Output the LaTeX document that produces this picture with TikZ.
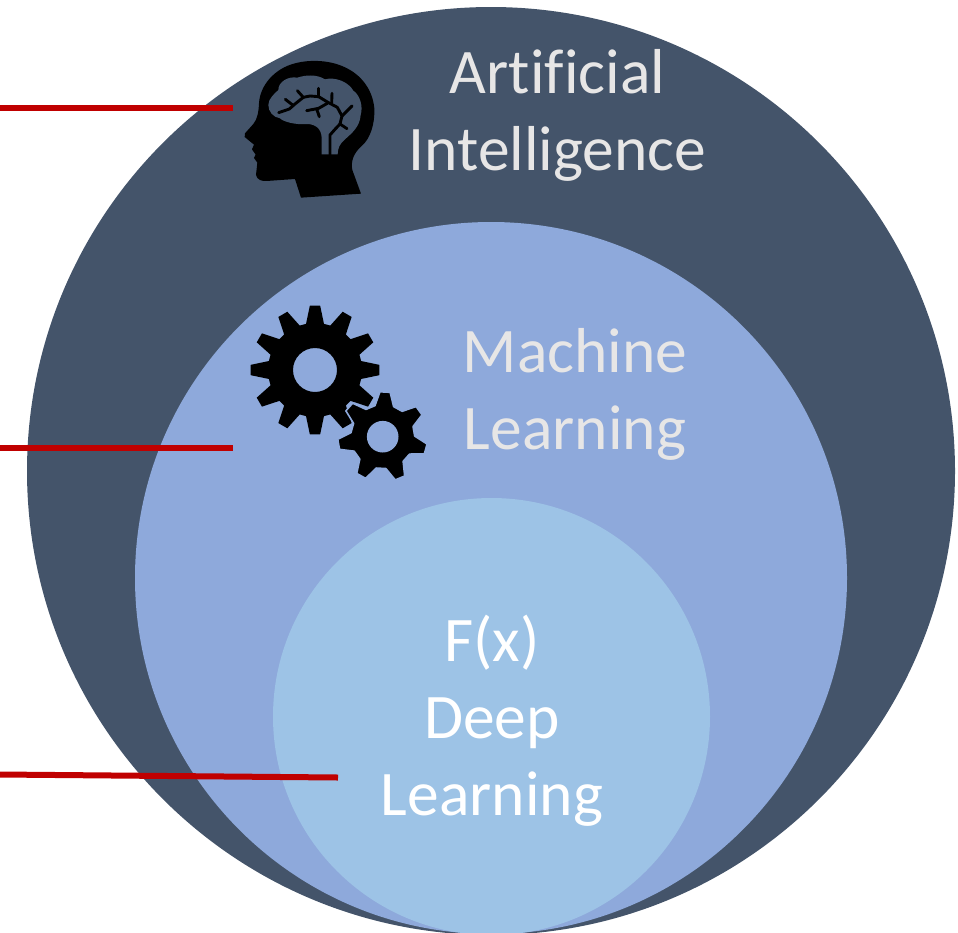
\documentclass[tikz,border=0pt]{standalone}
\usepackage{fontspec}
\setmainfont[Ligatures=NoCommon]{Carlito}
\definecolor{aiblue}{HTML}{44546A}
\definecolor{mlblue}{HTML}{8EA9DB}
\definecolor{dlblue}{HTML}{9DC3E6}
\definecolor{leader}{HTML}{C00000}
\definecolor{aitext}{HTML}{E7E6E6}
\tikzset{
  ring/.style={circle,inner sep=0pt,outer sep=0pt,minimum size=#1},
  caption/.style={align=center,inner sep=0pt,font=\fontsize{63.5}{77}\selectfont},
  leaderline/.style={draw=leader,line width=6pt},
  vein/.style={draw=black,line width=2.9pt,line cap=round,line join=round},
  gearbody/.style={fill=black,even odd rule,line join=round}
}
\begin{document}
\begin{tikzpicture}[x=1pt,y=-1pt]
\useasboundingbox (0,0) rectangle (958,932);
\clip (0,0) rectangle (958,932);
\node[ring=928pt,fill=aiblue] (ai) at (491,471) {};
\node[ring=712pt,fill=mlblue] (ml) at (491,578) {};
\node[ring=437pt,fill=dlblue] (dl) at (491.5,716.5) {};

\coordinate (s1) at (0,108);  \coordinate (e1) at (233,108);
\coordinate (s2) at (0,447.5);  \coordinate (e2) at (233,447.5);
\coordinate (s3) at (0,774.5);  \coordinate (e3) at (338,777.5);
\draw[leaderline] (s1) -- (e1);
\draw[leaderline] (s2) -- (e2);
\draw[leaderline] (s3) -- (e3);

\node[caption,text=aitext] (aitxt) at (557.5,115) {Artificial\\Intelligence};
\node[caption,text=aitext] (mltxt) at (575,394) {Machine\\Learning};
\node[caption,text=white] (dltxt) at (492,721) {F(x)\\Deep\\Learning};

% head, traced in 3x crop coordinates
\begin{scope}[shift={(220,40)},x=0.3333pt,y=-0.3333pt]
\fill[black] (243,473) -- (423,461) -- (397,390)
  .. controls (392,365) and (400,340) .. (425,318)
  .. controls (452,295) and (465,250) .. (463,205)
  .. controls (458,150) and (425,105) .. (375,82)
  .. controls (330,60) and (270,58) .. (225,70)
  .. controls (165,85) and (120,135) .. (117,190)
  .. controls (116,215) and (112,238) .. (100,252)
  -- (75,280) -- (74,291) -- (102,314) -- (96,328) -- (107,344) -- (102,354) -- (112,368)
  -- (108,405) .. controls (112,420) and (125,424) .. (140,423)
  -- (225,417) -- cycle;
\fill[aiblue] (305,343) -- (305,295)
  .. controls (305,265) and (285,252) .. (260,252)
  .. controls (225,255) and (190,245) .. (180,235)
  .. controls (160,232) and (145,215) .. (145,195)
  .. controls (145,175) and (165,160) .. (175,150)
  .. controls (175,125) and (205,108) .. (232,113)
  .. controls (255,105) and (290,102) .. (315,118)
  .. controls (345,110) and (385,125) .. (400,152)
  .. controls (420,165) and (430,200) .. (422,225)
  .. controls (420,260) and (395,280) .. (375,298)
  .. controls (360,310) and (353,325) .. (353,343) -- cycle;
\draw[vein] (330,345) -- (330,285) -- (345,268) -- (360,252) -- (366,228) -- (352,202) -- (322,186) -- (296,170) -- (270,168) -- (250,172) -- (232,152);
\draw[vein] (296,170) -- (296,145);
\draw[vein] (335,190) -- (336,160);
\draw[vein] (250,172) -- (225,192) -- (208,207) -- (176,218);
\draw[vein] (218,195) -- (196,178);
\draw[vein] (366,228) -- (396,198);
\draw[vein] (360,252) -- (381,266);
\draw[vein] (322,190) -- (296,205) -- (260,212);
\draw[vein] (290,207) -- (298,230);
\end{scope}

% big gear
\begin{scope}[shift={(315,370)}]
\fill[gearbody] (-11:47)
  \foreach \a in {0,30,...,330} {
    -- ({\a-11}:47) -- ({\a-4.6}:64.5) -- ({\a+4.6}:64.5) -- ({\a+11}:47)
  } -- cycle
  (0,0) circle[radius=22];
\end{scope}
% small gear, with a thin halo that keeps it apart from the big one
\begin{scope}[shift={(382.7,436.7)}]
\filldraw[gearbody,draw=mlblue,line width=1.6pt] ({-87-17}:32)
  \foreach \i in {0,...,6} {
    -- ({-87+\i*51.43-17}:32) -- ({-87+\i*51.43-6.5}:45) -- ({-87+\i*51.43+6.5}:45) -- ({-87+\i*51.43+17}:32)
  } -- cycle
  (0,0) circle[radius=15];
\end{scope}
\end{tikzpicture}
\end{document}
